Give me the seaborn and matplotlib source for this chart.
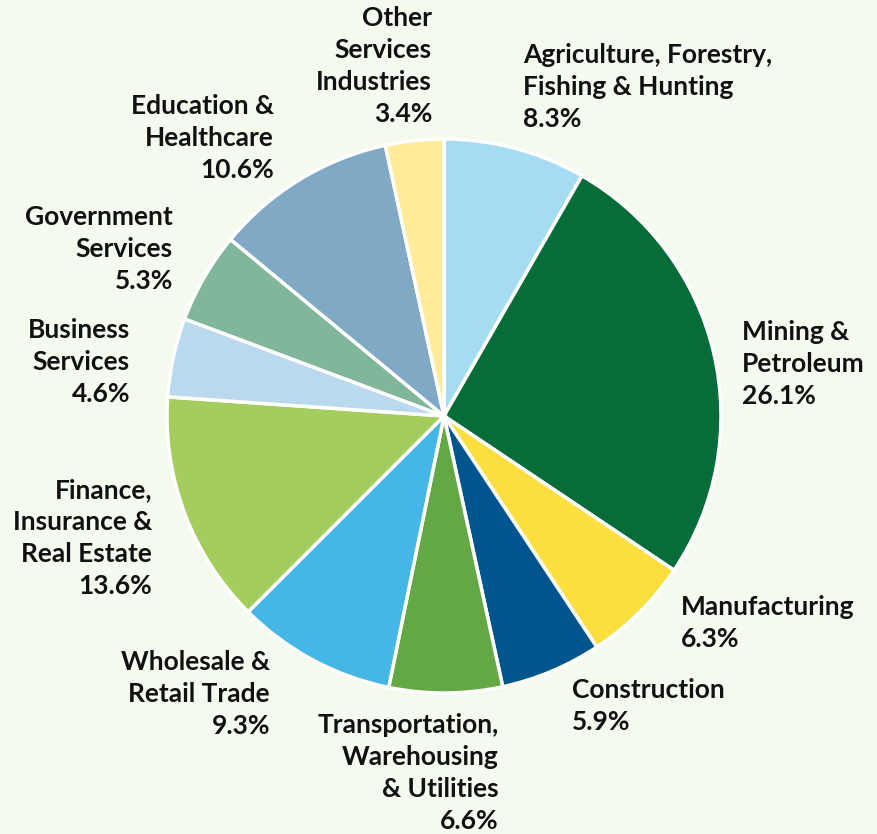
import matplotlib
matplotlib.use("Agg")
import matplotlib.pyplot as plt
import seaborn as sns

# Share of output by industry (percent)
industries = [
    "Agriculture, Forestry,\nFishing & Hunting",
    "Mining &\nPetroleum",
    "Manufacturing",
    "Construction",
    "Transportation,\nWarehousing\n& Utilities",
    "Wholesale &\nRetail Trade",
    "Finance,\nInsurance &\nReal Estate",
    "Business\nServices",
    "Government\nServices",
    "Education &\nHealthcare",
    "Other\nServices\nIndustries",
]
shares = [8.3, 26.1, 6.3, 5.9, 6.6, 9.3, 13.6, 4.6, 5.3, 10.6, 3.4]
colors = [
    "#A6DCF2", "#066C38", "#FADF3F", "#00558E", "#63A844", "#45B6E5",
    "#A5CD5E", "#BBD9EC", "#80B79B", "#7FA9C4", "#FFEB9A",
]

# Label anchors in figure pixels (x, top line y from top) and alignment
label_layout = [
    (523, 55, "left"),
    (742, 332, "left"),
    (681, 607, "left"),
    (572, 690, "left"),
    (499, 725, "right"),
    (270, 662, "right"),
    (152, 490, "right"),
    (130, 330, "right"),
    (173, 217, "right"),
    (274, 106, "right"),
    (432, 18, "right"),
]

W, H = 878, 834
BG = "#F5FAEF"

sns.set_theme(style="white")
plt.rcParams["font.family"] = ["Lato", "DejaVu Sans"]

fig = plt.figure(figsize=(W / 100, H / 100), dpi=100, facecolor=BG)
ax = fig.add_axes([0, 0, 1, 1])
ax.set_facecolor(BG)

palette = sns.color_palette(colors)
ax.pie(
    shares,
    colors=palette,
    startangle=90,
    counterclock=False,
    center=(444, H - 416),
    radius=277,
    frame=True,
    wedgeprops=dict(edgecolor="white", linewidth=2.5),
)
ax.set_xlim(0, W)
ax.set_ylim(0, H)
ax.set_aspect("equal")
ax.axis("off")

line_pitch = 32
for name, value, (x, ytop, ha) in zip(industries, shares, label_layout):
    lines = name.split("\n") + [f"{value:.1f}%"]
    for i, line in enumerate(lines):
        ax.text(
            x, H - (ytop + i * line_pitch), line,
            ha=ha, va="center", fontsize=19, fontweight="bold",
            color="#111111",
        )

fig.savefig("out.png", dpi=100, facecolor=BG)
